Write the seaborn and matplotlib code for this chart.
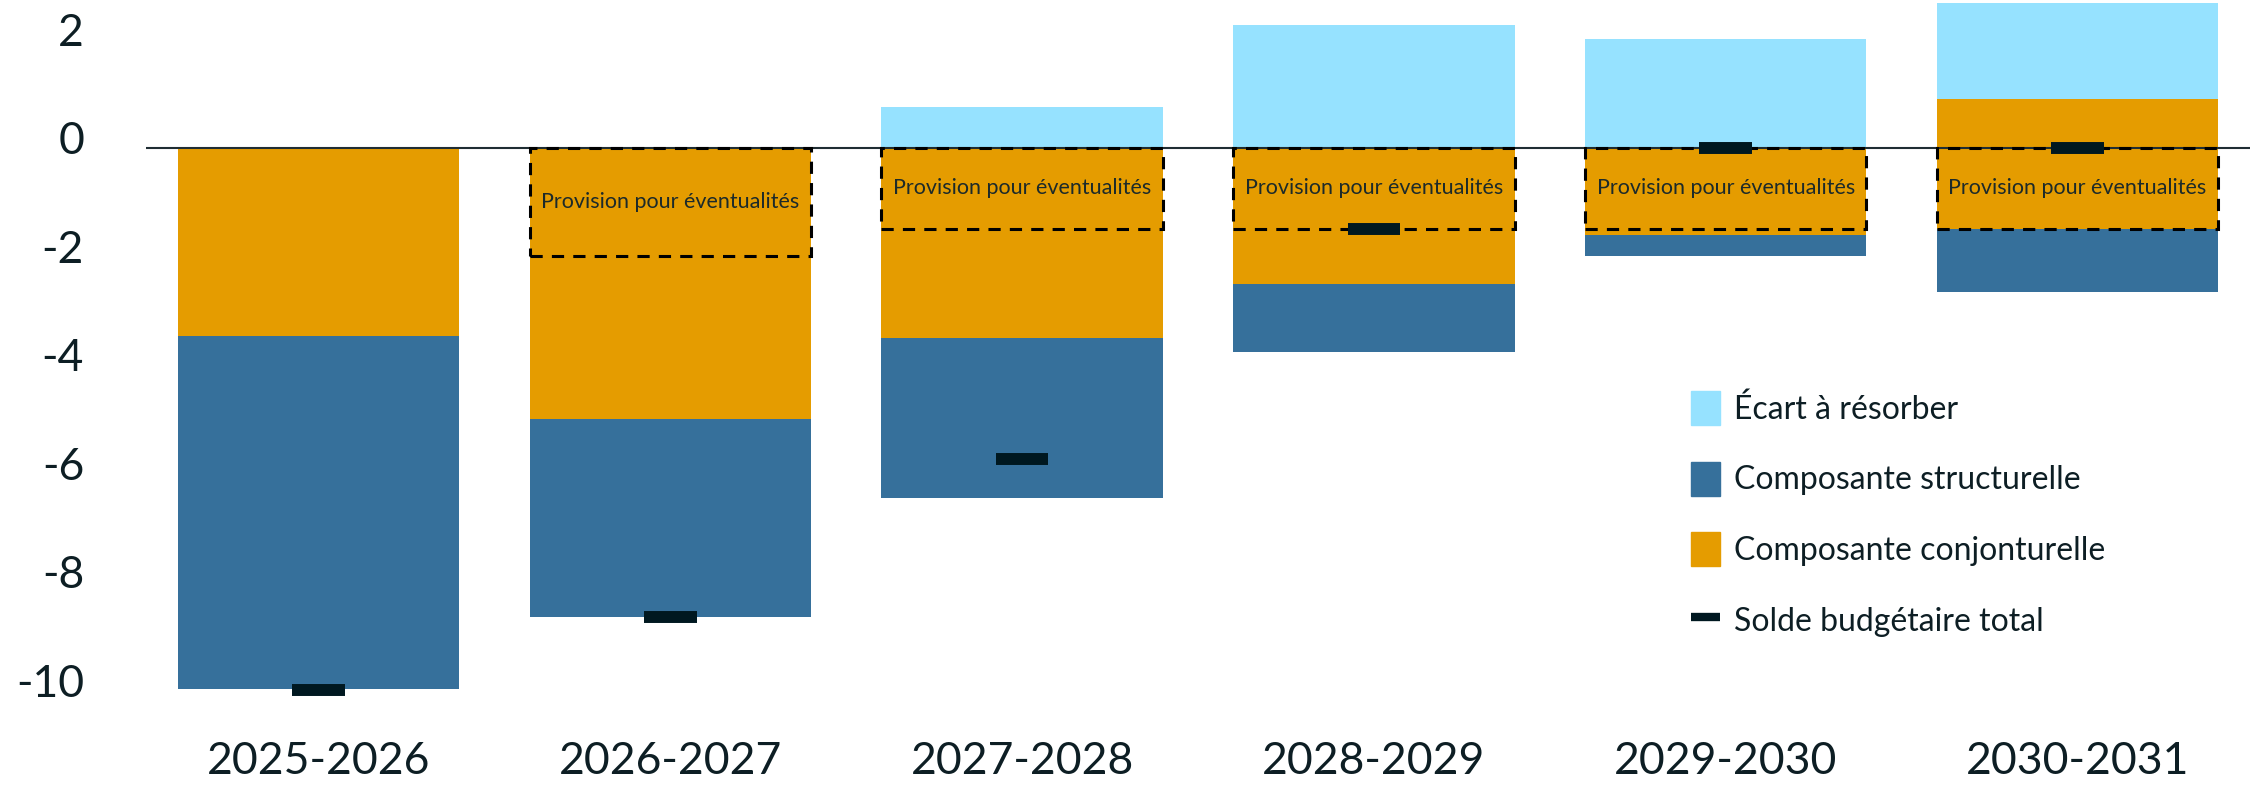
import matplotlib
matplotlib.use("Agg")
import matplotlib.pyplot as plt
import matplotlib.transforms as mtransforms
from matplotlib.patches import Patch, Rectangle
from matplotlib.lines import Line2D
import seaborn as sns
import pandas as pd

# donnees
annees = ["2025-2026", "2026-2027", "2027-2028", "2028-2029", "2029-2030", "2030-2031"]
ecart_haut = [0, 0, 0.75, 2.26, 2.01, 2.67]          # haut de l'ecart a resorber
conj_haut = [0, 0, 0, 0, 0, 0.90]                   # partie positive conjoncturelle
conj_bas = [-3.47, -5.01, -3.50, -2.52, -1.61, -1.50]
struct_bas = [-9.98, -8.65, -6.46, -3.76, -2.00, -2.66]
provision = [None, -2.0, -1.5, -1.5, -1.5, -1.5]
solde_total = [-10.0, -8.65, -5.73, -1.50, 0.0, 0.0]
yticks = [-10, -8, -6, -4, -2, 0, 2]

c_ecart = "#96E2FF"
c_struct = "#36709B"
c_conj = "#E59C00"
c_total = "#001820"
c_texte = "#0d1e24"

df = pd.DataFrame({"annee": annees, "ecart": ecart_haut, "conj_p": conj_haut,
                   "struct": struct_bas, "conj_n": conj_bas})

sns.set_theme(style="white")
plt.rcParams["font.family"] = ["Lato", "DejaVu Sans"]

fig = plt.figure(figsize=(22.5, 7.86), dpi=100)
ax = fig.add_axes([146 / 2250, 0.0804, 1 - 146 / 2250, 0.9196])

# barres superposees (chaque couche part de zero)
for col, c in [("ecart", c_ecart), ("conj_p", c_conj), ("struct", c_struct), ("conj_n", c_conj)]:
    sns.barplot(data=df, x="annee", y=col, color=c, saturation=1, width=0.8,
                errorbar=None, linewidth=0, ax=ax, zorder=2)

ax.axhline(0, color="#1f2d33", lw=1.5, zorder=3)

# provision pour eventualites
for i, p in enumerate(provision):
    if p is None:
        continue
    ax.add_patch(Rectangle((i - 0.4, p), 0.8, -p, fill=False, edgecolor="black",
                           lw=2.2, ls=(0, (4, 3)), zorder=4))
    ax.text(i, p / 2, "Provision pour éventualités", ha="center", va="center",
            fontsize=15.5, color="#1c2a2a", zorder=5)

# solde budgetaire total
xs = list(range(len(annees)))
ax.hlines(solde_total, [x - 0.075 for x in xs], [x + 0.075 for x in xs],
          colors=c_total, lw=8.6, zorder=6, capstyle="butt")

ax.set_xlim(-0.49, 5.49)
ax.set_ylim(-10.6, 2.72)
ax.set_yticks(yticks)
ax.set_yticklabels([str(t) for t in yticks])
ax.set_xlabel("")
ax.set_ylabel("")
for s in ax.spines.values():
    s.set_visible(False)
ax.tick_params(axis="y", length=0, pad=44.6, labelsize=32, colors=c_texte)
ax.tick_params(axis="x", length=0, pad=13, labelsize=32, colors=c_texte)

handles = [Patch(color=c_ecart, label="Écart à résorber"),
           Patch(color=c_struct, label="Composante structurelle"),
           Patch(color=c_conj, label="Composante conjonturelle"),
           Line2D([0], [0], color=c_total, lw=6, solid_capstyle="butt",
                  label="Solde budgétaire total")]
leg = ax.legend(handles=handles, loc="upper left", bbox_to_anchor=(1691 / 2250, 1 - 391 / 786),
                bbox_transform=fig.transFigure, frameon=False, fontsize=23,
                handlelength=0.91, handleheight=1.26, handletextpad=0.44,
                labelspacing=1.15, borderpad=0, borderaxespad=0)
for t in leg.get_texts():
    t.set_color(c_texte)

# les etiquettes de l'axe y sont un peu au-dessus des valeurs
decal = mtransforms.ScaledTranslation(0, 0.10, fig.dpi_scale_trans)
for lbl in ax.get_yticklabels():
    lbl.set_transform(lbl.get_transform() + decal)

fig.savefig("out.png", dpi=100)
